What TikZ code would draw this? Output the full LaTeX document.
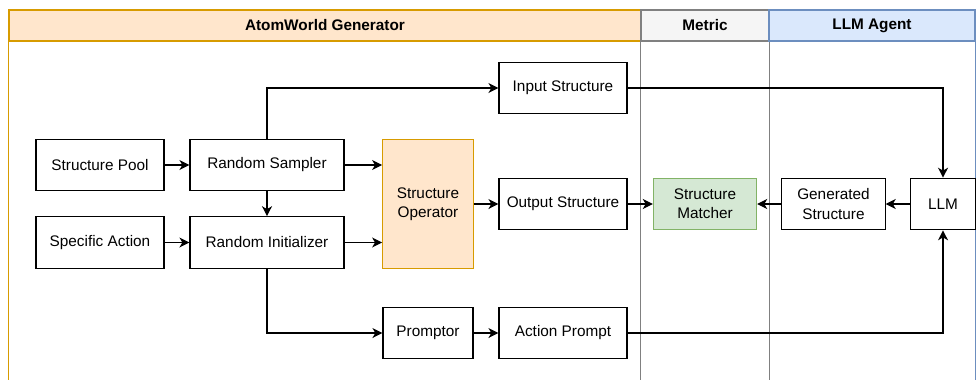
\documentclass[tikz,border=0pt]{standalone}
\usepackage{fontspec}
\setmainfont{Liberation Sans}
\usepackage{tikz}
\usetikzlibrary{arrows.meta, positioning, calc}
\usepackage{xcolor}
\definecolor{gencolor}{HTML}{FFE6CC}
\definecolor{genborder}{HTML}{D79B00}
\definecolor{metcolor}{HTML}{F5F5F5}
\definecolor{metborder}{HTML}{808080}
\definecolor{agentcolor}{HTML}{DAE8FC}
\definecolor{agentborder}{HTML}{6C8EBF}
\definecolor{matchcolor}{HTML}{D5E8D4}
\definecolor{matchborder}{HTML}{82B366}

\begin{document}
\begin{tikzpicture}[
    x=0.75pt, y=-0.75pt,
    box/.style={rectangle, draw, line width=0.85pt, fill=white, minimum width=96pt, minimum height=38.6pt, inner sep=0pt, align=center, font=\fontsize{11.5}{14.3}\selectfont},
    lanehead/.style={rectangle, draw, line width=0.9pt, minimum height=23.25pt, inner sep=0pt, font=\fontsize{11.5}{14}\selectfont\bfseries},
    arrow/.style={-{Stealth[length=7.5pt, width=7.5pt, inset=2.2pt]}, line width=0.85pt}
]
\useasboundingbox (0,0) rectangle (976,379);

% lanes
\node[lanehead, fill=gencolor, draw=genborder, minimum width=474pt] (gen) at (325,25.5) {AtomWorld Generator};
\node[lanehead, fill=metcolor, draw=metborder, minimum width=96pt] (met) at (705,25.5) {Metric};
\node[lanehead, fill=agentcolor, draw=agentborder, minimum width=154.5pt] (agent) at (872,25.5) {LLM Agent};
\draw[genborder, line width=0.8pt] (gen.south west) -- ++(0,338);
\draw[metborder, line width=0.6pt] (met.south west) -- ++(0,338);
\draw[metborder, line width=0.6pt] (met.south east) -- ++(0,338);
\draw[agentborder, line width=0.8pt] (agent.south east) -- ++(0,338);

% generator
\node[box] (pool) at (100,165) {Structure Pool};
\node[box] (action) at (100,242.5) {Specific Action};
\node[box, minimum width=115.5pt] (sampler) at (267,165) {Random Sampler};
\node[box, minimum width=115.5pt] (init) at (267,242.5) {Random Initializer};
\node[box, fill=gencolor, draw=genborder, minimum width=68pt, minimum height=96.75pt] (op) at (428,204) {Structure\\Operator};
\node[box] (inp) at (563,88) {Input Structure};
\node[box] (out) at (563,204) {Output Structure};
\node[box, minimum width=67.5pt] (promptor) at (428,333) {Promptor};
\node[box] (actprompt) at (563,333) {Action Prompt};

% metric and agent
\node[box, fill=matchcolor, draw=matchborder, minimum width=77.5pt] (match) at (705,204) {Structure\\Matcher};
\node[box, minimum width=77.5pt] (genstruct) at (833.5,204) {Generated\\Structure};
\node[box, minimum width=48.5pt] (llm) at (943,204) {LLM};

\draw[arrow] (pool) -- (sampler);
\draw[arrow] (action) -- (init);
\draw[arrow] (sampler) -- (init);
\draw[arrow] (sampler.east) -- (sampler.east -| op.west);
\draw[arrow] (init.east) -- (init.east -| op.west);
\draw[arrow] (sampler.north) |- (inp);
\draw[arrow] (init.south) |- (promptor);
\draw[arrow] (op) -- (out);
\draw[arrow] (promptor) -- (actprompt);
\draw[arrow] (out) -- (match);
\draw[arrow] (genstruct) -- (match);
\draw[arrow] (llm) -- (genstruct);
\draw[arrow] (inp) -| (llm);
\draw[arrow] (actprompt) -| (llm);
\end{tikzpicture}
\end{document}
